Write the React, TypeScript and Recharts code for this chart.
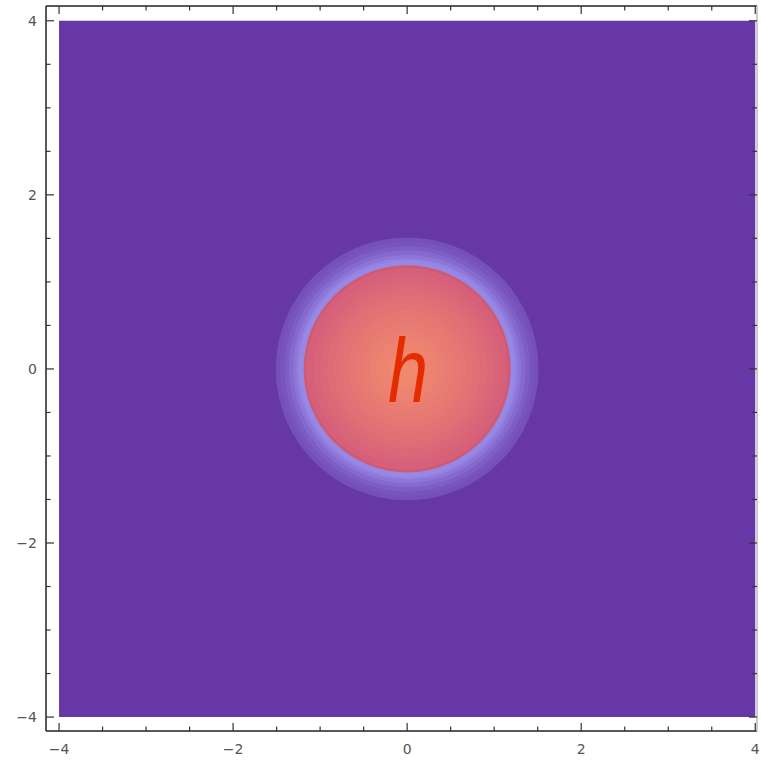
import React from "react";
import { ScatterChart, Scatter, XAxis, YAxis, ReferenceArea } from "recharts";

// contour radii (plot units), outer to inner
const haloLevels = [1.51, 1.46, 1.41, 1.36, 1.31, 1.27, 1.245];
const diskLevels = [1.19, 1.16, 1.08, 1.0, 0.92, 0.84, 0.76, 0.68, 0.6, 0.52, 0.44, 0.36, 0.28, 0.2, 0.12];
const frameTicks = [-4, -3.5, -3, -2.5, -2, -1.5, -1, -0.5, 0, 0.5, 1, 1.5, 2, 2.5, 3, 3.5, 4];
const peakLabel = [{ x: 0.01, y: 0, text: "h" }];

const W = 761;
const H = 765;
const X_DOMAIN: [number, number] = [-4.15, 4.02];
const Y_DOMAIN: [number, number] = [-4.16, 4.17];
const LEFT_W = 46;
const RIGHT_W = 4;
const PX = (W - LEFT_W - RIGHT_W) / (X_DOMAIN[1] - X_DOMAIN[0]);

const BG = "#6737a5";

type RGB = [number, number, number];
const hex = (h: string): RGB => [1, 3, 5].map((i) => parseInt(h.slice(i, i + 2), 16)) as RGB;
const mix = (a: string, b: string, t: number) => {
  const A = hex(a), B = hex(b);
  return `rgb(${A.map((v, i) => Math.round(v + (B[i] - v) * t)).join(",")})`;
};

function colorFor(r: number) {
  if (r > 1.2) {
    const t = (haloLevels[0] - r) / (haloLevels[0] - haloLevels[haloLevels.length - 1]);
    return mix("#7550b8", "#9888e6", Math.pow(t, 1.4));
  }
  if (r > 1.17) return "#cf5a74";
  const t = r / 1.17;
  return mix("#f38b6e", "#d6607a", Math.pow(t, 1.3));
}

const contours = [...haloLevels, ...diskLevels].map((r) => ({ x: 0, y: 0, r }));

const isMajor = (v: number) => Math.abs(v / 2 - Math.round(v / 2)) < 1e-6;
const fmt = (v: number) => (v < 0 ? "\u2212" + Math.abs(v) : String(v));

function FrameTick(props: any) {
  const { x, y, payload, side } = props;
  const v = payload.value as number;
  const len = isMajor(v) ? 8 : 4.5;
  const stroke = "#333";
  const label = isMajor(v) ? fmt(v) : null;
  const font = { fontFamily: "DejaVu Sans", fontSize: 14, fill: "#555" };
  if (side === "bottom") {
    return (
      <g>
        <line x1={x} x2={x} y1={y} y2={y - len} stroke={stroke} strokeWidth={1.2} />
        {label && <text x={x} y={y + 23} textAnchor="middle" {...font}>{label}</text>}
      </g>
    );
  }
  if (side === "top") {
    return <line x1={x} x2={x} y1={y} y2={y + len} stroke={stroke} strokeWidth={1.2} />;
  }
  if (side === "left") {
    return (
      <g>
        <line x1={x} x2={x + len} y1={y} y2={y} stroke={stroke} strokeWidth={1.2} />
        {label && <text x={x - 9} y={y + 5} textAnchor="end" {...font}>{label}</text>}
      </g>
    );
  }
  return <line x1={x} x2={x - len} y1={y} y2={y} stroke={stroke} strokeWidth={1.2} />;
}

const ContourShape = (p: any) => (
  <circle cx={p.cx} cy={p.cy} r={p.payload.r * PX} fill={colorFor(p.payload.r)} />
);

const PeakText = (p: any) => (
  <text
    x={p.cx}
    y={p.cy + 33}
    textAnchor="middle"
    fontFamily="Liberation Sans"
    fontStyle="italic"
    fontSize={90}
    fill="#e42c00"
    transform={`translate(${p.cx},0) scale(0.8,1) translate(${-p.cx},0)`}
  >
    {p.payload.text}
  </text>
);

export default function App() {
  const axisLine = { stroke: "#222", strokeWidth: 1.5 };
  return (
    <div style={{ position: "absolute", left: 0, top: 0, width: W, height: H, background: "#fff" }}>
      <ScatterChart width={W} height={H} margin={{ top: 0, right: 0, bottom: 0, left: 0 }}>
        <XAxis xAxisId="b" type="number" dataKey="x" orientation="bottom" domain={X_DOMAIN} ticks={frameTicks}
          interval={0} allowDataOverflow height={34} tickSize={0} tickMargin={0} tickLine={false}
          axisLine={axisLine} tick={<FrameTick side="bottom" />} />
        <XAxis xAxisId="t" type="number" dataKey="x" orientation="top" domain={X_DOMAIN} ticks={frameTicks}
          interval={0} allowDataOverflow height={6} tickSize={0} tickMargin={0} tickLine={false}
          axisLine={axisLine} tick={<FrameTick side="top" />} />
        <YAxis yAxisId="l" type="number" dataKey="y" orientation="left" domain={Y_DOMAIN} ticks={frameTicks}
          interval={0} allowDataOverflow width={LEFT_W} tickSize={0} tickMargin={0} tickLine={false}
          axisLine={axisLine} tick={<FrameTick side="left" />} />
        <YAxis yAxisId="r" type="number" dataKey="y" orientation="right" domain={Y_DOMAIN} ticks={frameTicks}
          interval={0} allowDataOverflow width={RIGHT_W} tickSize={0} tickMargin={0} tickLine={false}
          axisLine={{ stroke: "#bbb", strokeWidth: 1.5 }} tick={<FrameTick side="right" />} />
        <ReferenceArea xAxisId="b" yAxisId="l" x1={-4} x2={4} y1={-4} y2={4} fill={BG} fillOpacity={1} stroke="none" />
        <Scatter xAxisId="b" yAxisId="l" data={contours} shape={ContourShape} isAnimationActive={false} />
        <Scatter xAxisId="b" yAxisId="l" data={peakLabel} shape={PeakText} isAnimationActive={false} />
      </ScatterChart>
    </div>
  );
}
